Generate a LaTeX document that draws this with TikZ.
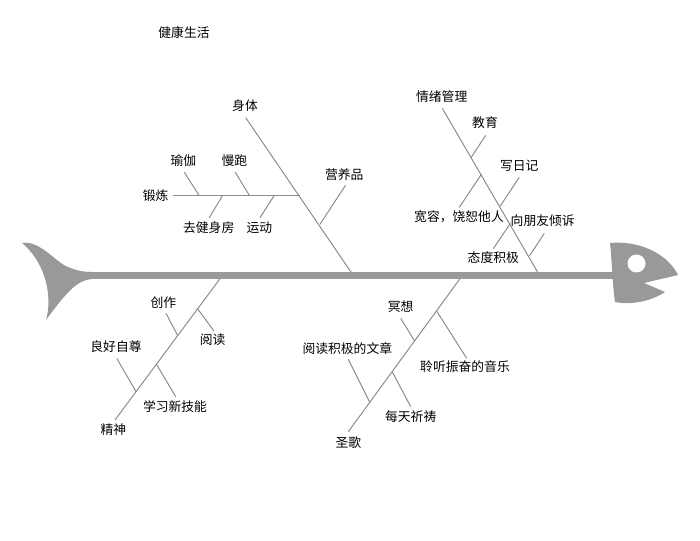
\documentclass[tikz,border=0pt]{standalone}
\usepackage{fontspec}
\newfontfamily\cjk{Noto Sans CJK SC}
\usetikzlibrary{calc,positioning}
\definecolor{fishgray}{HTML}{999999}
\definecolor{bonegray}{HTML}{8C8C8C}

\begin{document}
\begin{tikzpicture}[x=0.75pt, y=-0.75pt, lbl/.style={inner sep=1pt, font=\cjk\fontsize{9.6}{11}\selectfont},
  bone/.style={draw=bonegray, line width=0.75pt}]
\useasboundingbox (0,0) rectangle (700,541);
\node (title) [lbl] at (184,33) {健康生活};

\coordinate (bodyJ) at (353,275);
\coordinate (bodyE) at (245.7,117.7);
\node (body) [lbl] at (245,106) {身体};
\draw[bone] (bodyJ) -- (bodyE);
\coordinate (exerciseJ) at (299.7,195.3);
\coordinate (exerciseE) at (172.7,195.3);
\node (exercise) [lbl, left=2pt of exerciseE] {锻炼};
\draw[bone] (exerciseJ) -- (exerciseE);
\coordinate (yogaJ) at (199,195.3);
\coordinate (yogaE) at (184.3,172.3);
\node (yoga) [lbl] at (183.3,161) {瑜伽};
\draw[bone] (yogaJ) -- (yogaE);
\coordinate (jogJ) at (249.3,195.3);
\coordinate (jogE) at (235.3,172.3);
\node (jog) [lbl] at (234.3,161) {慢跑};
\draw[bone] (jogJ) -- (jogE);
\coordinate (gymJ) at (222.7,195.3);
\coordinate (gymE) at (209.3,217.7);
\node (gym) [lbl] at (208.7,227.3) {去健身房};
\draw[bone] (gymJ) -- (gymE);
\coordinate (sportJ) at (274.3,195.3);
\coordinate (sportE) at (260,217.7);
\node (sport) [lbl] at (259.3,227.3) {运动};
\draw[bone] (sportJ) -- (sportE);
\coordinate (nutritionJ) at (320,224.3);
\coordinate (nutritionE) at (345.7,185);
\node (nutrition) [lbl] at (344.3,175) {营养品};
\draw[bone] (nutritionJ) -- (nutritionE);

\coordinate (emotionJ) at (539.3,275);
\coordinate (emotionE) at (442.3,108.3);
\node (emotion) [lbl] at (441.7,96.7) {情绪管理};
\draw[bone] (emotionJ) -- (emotionE);
\coordinate (educationJ) at (471.3,157.3);
\coordinate (educationE) at (485.7,135.3);
\node (education) [lbl] at (485,122.7) {教育};
\draw[bone] (educationJ) -- (educationE);
\coordinate (toleranceJ) at (481.4,174.3);
\coordinate (toleranceE) at (459.3,207.3);
\node (tolerance) [lbl] at (459,216.7) {宽容，饶恕他人};
\draw[bone] (toleranceJ) -- (toleranceE);
\coordinate (diaryJ) at (500.2,206);
\coordinate (diaryE) at (519.3,177.3);
\node (diary) [lbl] at (519.3,166) {写日记};
\draw[bone] (diaryJ) -- (diaryE);
\coordinate (attitudeJ) at (510.4,223.3);
\coordinate (attitudeE) at (493.3,248.7);
\node (attitude) [lbl] at (493.3,257.3) {态度积极};
\draw[bone] (attitudeJ) -- (attitudeE);
\coordinate (talkJ) at (529.6,255.7);
\coordinate (talkE) at (544.3,233.3);
\node (talk) [lbl] at (542.7,221) {向朋友倾诉};
\draw[bone] (talkJ) -- (talkE);

\coordinate (spiritJ) at (222,276);
\coordinate (spiritE) at (115,420);
\node (spirit) [lbl] at (113.3,430) {精神};
\draw[bone] (spiritJ) -- (spiritE);
\coordinate (createJ) at (177.8,335.7);
\coordinate (createE) at (166,313.3);
\node (create) [lbl] at (163.3,302.7) {创作};
\draw[bone] (createJ) -- (createE);
\coordinate (readJ) at (197.7,309);
\coordinate (readE) at (214,331);
\node (read) [lbl] at (212.7,339.3) {阅读};
\draw[bone] (readJ) -- (readE);
\coordinate (esteemJ) at (136.1,391.7);
\coordinate (esteemE) at (116.7,358.3);
\node (esteem) [lbl] at (116,346.7) {良好自尊};
\draw[bone] (esteemJ) -- (esteemE);
\coordinate (skillJ) at (156.5,364.3);
\coordinate (skillE) at (175.7,396.7);
\node (skill) [lbl] at (175,406.7) {学习新技能};
\draw[bone] (skillJ) -- (skillE);

\coordinate (hymnJ) at (462,276);
\coordinate (hymnE) at (348.3,431.7);
\node (hymn) [lbl] at (348.3,442.7) {圣歌};
\draw[bone] (hymnJ) -- (hymnE);
\coordinate (meditateJ) at (414.6,341);
\coordinate (meditateE) at (400.7,318.3);
\node (meditate) [lbl] at (400.7,306.7) {冥想};
\draw[bone] (meditateJ) -- (meditateE);
\coordinate (musicJ) at (436.6,311);
\coordinate (musicE) at (466.7,358.3);
\node (music) [lbl] at (465,366.7) {聆听振奋的音乐};
\draw[bone] (musicJ) -- (musicE);
\coordinate (articleJ) at (369.8,402.3);
\coordinate (articleE) at (348.3,359.3);
\node (article) [lbl] at (347.3,349) {阅读积极的文章};
\draw[bone] (articleJ) -- (articleE);
\coordinate (prayJ) at (392.2,371.7);
\coordinate (prayE) at (410.7,406.7);
\node (pray) [lbl] at (410.7,416.7) {每天祈祷};
\draw[bone] (prayJ) -- (prayE);

\coordinate (tail) at (88,275.5);
\coordinate (head) at (614,275.5);
\draw[fishgray, line width=5.25pt] (tail) -- (head);
\fill[fishgray] (22,243) .. controls (40,240) and (55,262) .. (68,267) .. controls (75,270) and (82,272) .. (92,272)
  -- (92,279) .. controls (78,280) and (68,290) .. (46,320) .. controls (52,300) and (48,265) .. (22,243) -- cycle;
\fill[fishgray] (610,243) .. controls (645,240) and (670,258) .. (678,275) -- (644,283) -- (665,292)
  .. controls (650,302) and (630,305) .. (615,302) .. controls (612,280) and (612,260) .. (610,243) -- cycle;
\fill[white] (636.5,263.5) circle (9);
\end{tikzpicture}
\end{document}
